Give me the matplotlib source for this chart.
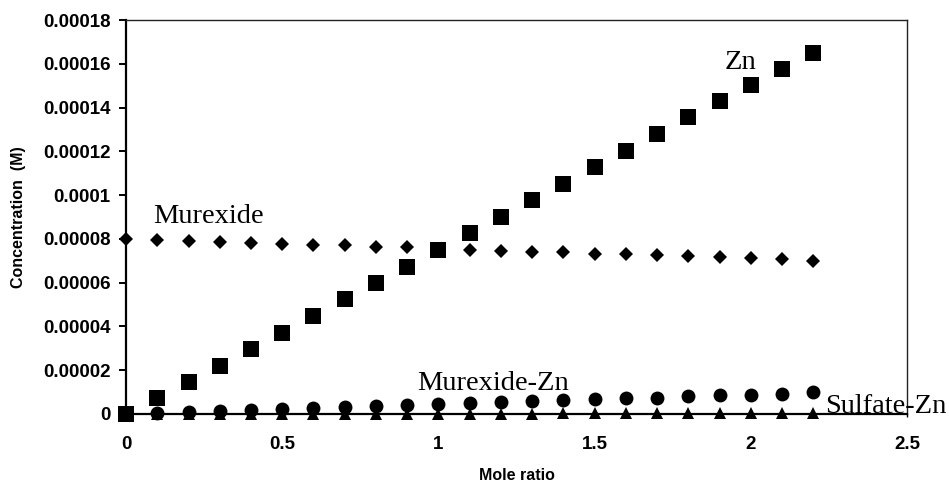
import matplotlib
matplotlib.use("Agg")
import matplotlib.pyplot as plt
from matplotlib.ticker import FixedLocator, FixedFormatter

# Mole ratio (x) and species concentrations (M)
mole_ratio = [0.0, 0.1, 0.2, 0.3, 0.4, 0.5, 0.6, 0.7, 0.8, 0.9, 1.0, 1.1,
              1.2, 1.3, 1.4, 1.5, 1.6, 1.7, 1.8, 1.9, 2.0, 2.1, 2.2]

zn = [0.0, 7.3e-6, 1.48e-5, 2.2e-5, 2.97e-5, 3.72e-5, 4.48e-5, 5.24e-5,
      5.98e-5, 6.73e-5, 7.49e-5, 8.25e-5, 9.01e-5, 9.77e-5, 1.053e-4,
      1.129e-4, 1.203e-4, 1.279e-4, 1.355e-4, 1.428e-4, 1.503e-4,
      1.577e-4, 1.651e-4]

murexide = [8.0e-5, 7.95e-5, 7.91e-5, 7.87e-5, 7.83e-5, 7.78e-5, 7.74e-5,
            7.7e-5, 7.65e-5, 7.61e-5, 7.56e-5, 7.5e-5, 7.45e-5, 7.41e-5,
            7.38e-5, 7.33e-5, 7.3e-5, 7.26e-5, 7.22e-5, 7.17e-5, 7.14e-5,
            7.07e-5, 7.0e-5]

murexide_zn = [0.0, 6e-7, 1.0e-6, 1.4e-6, 1.8e-6, 2.3e-6, 2.7e-6, 3.1e-6,
               3.6e-6, 4.1e-6, 4.5e-6, 5.0e-6, 5.4e-6, 5.8e-6, 6.3e-6,
               6.7e-6, 7.1e-6, 7.5e-6, 8.0e-6, 8.5e-6, 8.9e-6, 9.3e-6,
               9.9e-6]

sulfate_zn = [0.0, 0.0, 0.0, 0.0, 0.0, 0.0, 1e-7, 1e-7, 1e-7, 1e-7, 2e-7,
              2e-7, 2e-7, 2e-7, 3e-7, 3e-7, 3e-7, 3e-7, 4e-7, 4e-7, 4e-7,
              5e-7, 5e-7]

x_ticks = [0, 0.5, 1, 1.5, 2, 2.5]
x_tick_labels = ["0", "0.5", "1", "1.5", "2", "2.5"]
y_ticks = [0, 0.00002, 0.00004, 0.00006, 0.00008, 0.0001, 0.00012,
           0.00014, 0.00016, 0.00018]
y_tick_labels = ["0", "0.00002", "0.00004", "0.00006", "0.00008", "0.0001",
                 "0.00012", "0.00014", "0.00016", "0.00018"]

fig = plt.figure(figsize=(9.49, 4.87), dpi=100)
ax = fig.add_axes([0.1328, 0.1499, 0.8229, 0.809])

ax.plot(mole_ratio, murexide, linestyle="none", marker="D", markersize=7.0,
        color="black", markeredgewidth=0, clip_on=False, zorder=3)
ax.plot(mole_ratio, sulfate_zn, linestyle="none", marker="^", markersize=9.0,
        color="black", markeredgewidth=0, clip_on=False, zorder=3)
ax.plot(mole_ratio, murexide_zn, linestyle="none", marker="o", markersize=10.0,
        color="black", markeredgewidth=0, clip_on=False, zorder=4)
ax.plot(mole_ratio, zn, linestyle="none", marker="s", markersize=11.0,
        color="black", markeredgewidth=0, clip_on=False, zorder=5)

ax.set_xlim(0, 2.5)
ax.set_ylim(0, 0.00018)
ax.xaxis.set_major_locator(FixedLocator(x_ticks))
ax.xaxis.set_major_formatter(FixedFormatter(x_tick_labels))
ax.yaxis.set_major_locator(FixedLocator(y_ticks))
ax.yaxis.set_major_formatter(FixedFormatter(y_tick_labels))

tick_font = {"family": "Liberation Sans", "weight": "bold", "size": 13.5}
for lab in ax.get_xticklabels() + ax.get_yticklabels():
    lab.set_fontfamily(tick_font["family"])
    lab.set_fontweight(tick_font["weight"])
    lab.set_fontsize(tick_font["size"])

ax.tick_params(axis="y", direction="out", length=5, width=1.4, pad=6)
ax.tick_params(axis="x", direction="out", length=2, width=1.0, pad=14)

for side in ("left", "bottom"):
    ax.spines[side].set_linewidth(1.6)
    ax.spines[side].set_color("black")
for side in ("top", "right"):
    ax.spines[side].set_linewidth(1.0)
    ax.spines[side].set_color("#222222")

ax.set_xlabel("Mole ratio", fontfamily="Liberation Sans", fontweight="bold",
              fontsize=11.5, labelpad=11)
ax.set_ylabel("Concentration  (M)", fontfamily="Liberation Sans",
              fontweight="bold", fontsize=11.5, labelpad=12)

label_font = {"family": "Liberation Serif", "size": 20.5}
ax.text(0.086, 8.73e-5, "Murexide", va="baseline", ha="left",
        clip_on=False, **label_font)
ax.text(1.917, 1.576e-4, "Zn", va="baseline", ha="left",
        clip_on=False, **label_font)
ax.text(0.931, 1.1e-5, "Murexide-Zn", va="baseline", ha="left",
        clip_on=False, **label_font)
ax.text(2.237, 3e-7, "Sulfate-Zn", va="baseline", ha="left",
        clip_on=False, **label_font)

fig.savefig("out.png", dpi=100)
